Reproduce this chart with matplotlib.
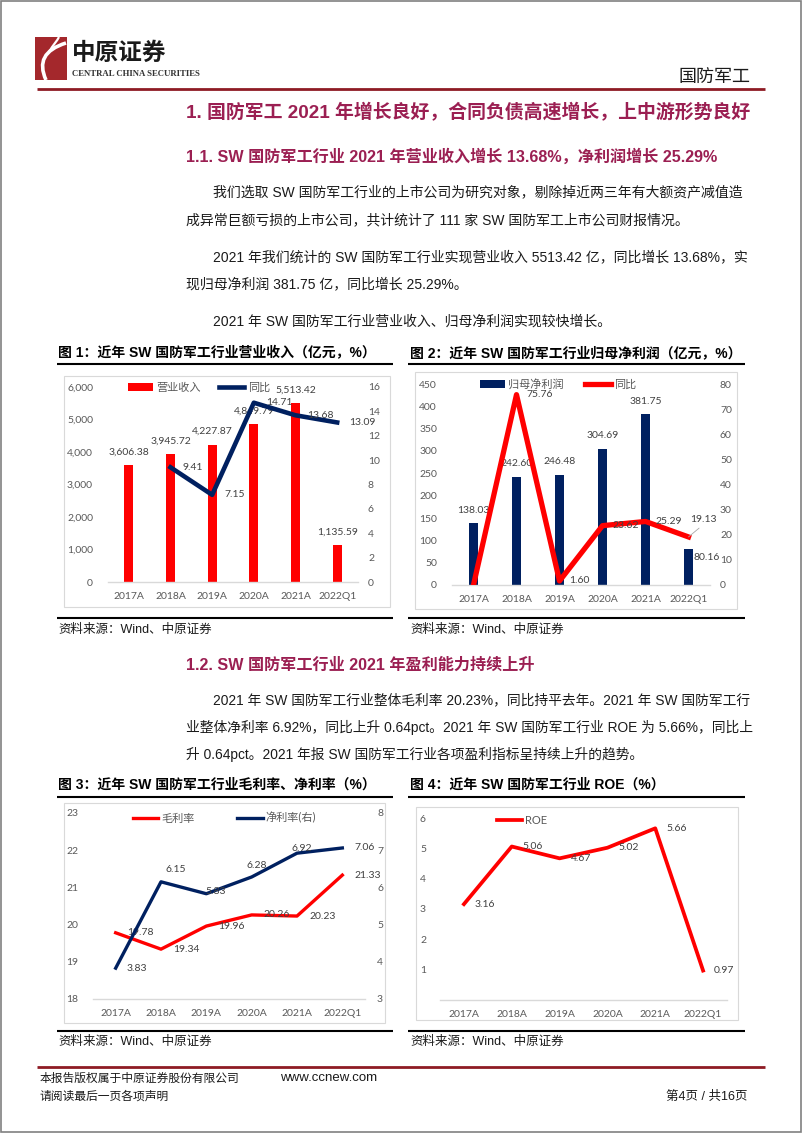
import matplotlib
matplotlib.use('Agg')
import matplotlib.pyplot as plt
from matplotlib import font_manager
from matplotlib.patches import Rectangle, PathPatch
from matplotlib.path import Path
from matplotlib.ticker import FuncFormatter

W, H, DPI = 802, 1133, 100
PT = 72 / DPI  # one pixel in points

CJK = 'Noto Sans CJK SC'
_names = {f.name for f in font_manager.fontManager.ttflist}
NARROW = 'Liberation Sans Narrow' if 'Liberation Sans Narrow' in _names else 'Liberation Sans'
BODY = [NARROW, CJK]
NUM = ['Lato', CJK]

PURPLE = '#9B1F52'
MAROON = '#8E1B24'
RED = '#FF0000'
NAVY = '#002060'
TICK = '#595959'
LABEL = '#404040'
BASE = '#D9D9D9'

# ---- data ----
years = ['2017A', '2018A', '2019A', '2020A', '2021A', '2022Q1']
revenue = [3606.38, 3945.72, 4227.87, 4849.79, 5513.42, 1135.59]
revenue_yoy = [None, 9.41, 7.15, 14.71, 13.68, 13.09]
profit = [138.03, 242.60, 246.48, 304.69, 381.75, 80.16]
profit_yoy = [0.0, 75.76, 1.60, 23.62, 25.29, 19.13]  # 2017 blank, Excel draws it at 0
gross_margin = [19.78, 19.34, 19.96, 20.26, 20.23, 21.33]
net_margin = [3.83, 6.15, 5.83, 6.28, 6.92, 7.06]
roe = [3.16, 5.06, 4.67, 5.02, 5.66, 0.97]

para_11 = [
    '我们选取 SW 国防军工行业的上市公司为研究对象，剔除掉近两三年有大额资产减值造',
    '成异常巨额亏损的上市公司，共计统计了 111 家 SW 国防军工上市公司财报情况。',
    '2021 年我们统计的 SW 国防军工行业实现营业收入 5513.42 亿，同比增长 13.68%，实',
    '现归母净利润 381.75 亿，同比增长 25.29%。',
    '2021 年 SW 国防军工行业营业收入、归母净利润实现较快增长。',
]
para_12 = [
    '2021 年 SW 国防军工行业整体毛利率 20.23%，同比持平去年。2021 年 SW 国防军工行',
    '业整体净利率 6.92%，同比上升 0.64pct。2021 年 SW 国防军工行业 ROE 为 5.66%，同比上',
    '升 0.64pct。2021 年报 SW 国防军工行业各项盈利指标呈持续上升的趋势。',
]

fig = plt.figure(figsize=(W / DPI, H / DPI), dpi=DPI)
page = fig.add_axes([0, 0, 1, 1])
page.set_xlim(0, W)
page.set_ylim(H, 0)
page.axis('off')


def txt(x, y, s, size, **kw):
    kw.setdefault('family', BODY)
    kw.setdefault('va', 'center')
    page.text(x, y, s, fontsize=size, **kw)


def hline(x0, x1, y, lw=1.5, color='black'):
    page.plot([x0, x1], [y, y], color=color, lw=lw, solid_capstyle='butt')


def axes_px(x0, y0, x1, y1):
    return fig.add_axes([x0 / W, 1 - y1 / H, (x1 - x0) / W, (y1 - y0) / H])


def style(ax, lo, hi, ticks, fmt=None, pad=10.8):
    ax.set_ylim(lo, hi)
    ax.set_yticks(ticks)
    if fmt:
        ax.yaxis.set_major_formatter(FuncFormatter(fmt))
    for s in ax.spines.values():
        s.set_visible(False)
    ax.tick_params(axis='y', length=0, pad=pad, labelsize=7.5, labelcolor=TICK)
    for lab in ax.get_yticklabels():
        lab.set_family(NUM)
    ax.patch.set_alpha(0)


def style_x(ax):
    ax.set_xlim(-0.5, 5.5)
    ax.set_xticks(range(6), years)
    ax.spines['bottom'].set_visible(True)
    ax.spines['bottom'].set_color(BASE)
    ax.spines['bottom'].set_linewidth(1.0)
    ax.tick_params(axis='x', length=0, pad=7.5, labelsize=7.5, labelcolor=TICK)
    for lab in ax.get_xticklabels():
        lab.set_family(NUM)


def label(ax, i, v, s, dx, dy, ha='left'):
    ax.annotate(s, (i, v), xytext=(dx * PT, -dy * PT), textcoords='offset points',
                ha=ha, va='center', fontsize=7.5, color=LABEL, family=NUM)


def legend(ax, handles, names, x, y, spacing):
    ax.legend(handles, names, loc='center left', bbox_to_anchor=(x / W, 1 - y / H),
              bbox_transform=fig.transFigure, ncol=len(names), frameon=False,
              prop={'family': NUM, 'size': 8}, labelcolor=TICK, borderpad=0,
              handlelength=2.3, handletextpad=0.3, columnspacing=spacing)


# ---- page frame, header ----
page.add_patch(Rectangle((0.5, 0.5), W - 1.5, H - 2, fill=False, ec='#808080', lw=1.2))
page.add_patch(Rectangle((35, 37), 32, 43, color='#A4282C', lw=0))
swoosh = Path([(46, 80), (38, 62), (44, 50), (66, 43)],
              [Path.MOVETO, Path.CURVE4, Path.CURVE4, Path.CURVE4])
page.add_patch(PathPatch(swoosh, fill=False, ec='white', lw=2.6))
twig = Path([(49, 52), (53, 45), (57, 41), (59, 37)],
            [Path.MOVETO, Path.CURVE4, Path.CURVE4, Path.CURVE4])
page.add_patch(PathPatch(twig, fill=False, ec='white', lw=1.6))
txt(72, 53, '中原证券', 17, family=[CJK], weight='bold', color='#1A1A1A')
txt(72, 74, 'CENTRAL CHINA SECURITIES', 6.3, family=['Liberation Serif'],
    weight='bold', color='#333333')
txt(750, 77, '国防军工', 13, family=[CJK], ha='right', color='#1A1A1A')
hline(37, 765, 89, lw=2, color=MAROON)

# ---- section text ----
txt(186, 113, '1. 国防军工 2021 年增长良好，合同负债高速增长，上中游形势良好', 13.6,
    weight='bold', color=PURPLE)
txt(186, 157, '1.1. SW 国防军工行业 2021 年营业收入增长 13.68%，净利润增长 25.29%', 11.6,
    weight='bold', color=PURPLE)
for (x, y), s in zip([(213, 192), (186, 220), (213, 257), (186, 284), (213, 322)], para_11):
    txt(x, y, s, 10, color='#1A1A1A')

txt(186, 665, '1.2. SW 国防军工行业 2021 年盈利能力持续上升', 11.6, weight='bold', color=PURPLE)
for (x, y), s in zip([(213, 700), (186, 727), (186, 754)], para_12):
    txt(x, y, s, 9.9, color='#1A1A1A')

# chart titles, rules, frames, sources
titles = [
    (58, 353, '图 1：近年 SW 国防军工行业营业收入（亿元，%）'),
    (410, 353, '图 2：近年 SW 国防军工行业归母净利润（亿元，%）'),
    (58, 785, '图 3：近年 SW 国防军工行业毛利率、净利率（%）'),
    (410, 785, '图 4：近年 SW 国防军工行业 ROE（%）'),
]
for x, y, s in titles:
    txt(x, y, s, 10, weight='bold', color='black')
for x0, x1 in [(57, 393), (408, 745)]:
    hline(x0, x1, 364)
    hline(x0, x1, 618)
    hline(x0, x1, 797)
    hline(x0, x1, 1031)
for x0, y0, x1, y1 in [(64, 376, 390, 607), (415, 372, 737, 609),
                       (64, 803, 385, 1023), (416, 807, 738, 1020)]:
    page.add_patch(Rectangle((x0, y0), x1 - x0, y1 - y0, fill=False, ec=BASE, lw=0.8))
for x, y in [(58, 630), (410, 630), (58, 1042), (410, 1042)]:
    txt(x, y, '资料来源：Wind、中原证券', 9, color='#1A1A1A')

# ---- footer ----
hline(37, 765, 1067, lw=2, color=MAROON)
txt(40, 1079, '本报告版权属于中原证券股份有限公司', 8.5, color='#1A1A1A')
txt(280, 1078, 'www.ccnew.com', 9.5, family=['Liberation Sans'], color='#1A1A1A')
txt(40, 1097, '请阅读最后一页各项声明', 8.5, color='#1A1A1A')
txt(748, 1097, '第4页 / 共16页', 9, ha='right', color='#1A1A1A')

x = list(range(6))

# ---- chart 1: revenue ----
ax1 = axes_px(108, 387, 358, 582)
bars1 = ax1.bar(x, revenue, width=0.22, color=RED)
style(ax1, 0, 6000, range(0, 6001, 1000), fmt=lambda v, p: f'{v:,.0f}', pad=15 * PT)
style_x(ax1)
for i, v in enumerate(revenue):
    label(ax1, i, v, f'{v:,.2f}', 0, -13, ha='center')
ax1r = ax1.twinx()
line1, = ax1r.plot(x[1:], revenue_yoy[1:], color=NAVY, lw=3.3)
style(ax1r, 0, 16, range(0, 17, 2), pad=10 * PT)
for i in range(1, 6):
    label(ax1r, i, revenue_yoy[i], f'{revenue_yoy[i]:.2f}', 12, 0)
legend(ax1r, [bars1, line1], ['营业收入', '同比'], 122, 387, 1.6)

# ---- chart 2: net profit ----
ax2 = axes_px(452, 384, 710, 585)
bars2 = ax2.bar(x, profit, width=0.22, color=NAVY)
style(ax2, 0, 450, range(0, 451, 50), pad=15 * PT)
style_x(ax2)
for i, v in enumerate(profit[:5]):
    label(ax2, i, v, f'{v:.2f}', 0, -13, ha='center')
label(ax2, 5, profit[5], f'{profit[5]:.2f}', 5, 8)
ax2r = ax2.twinx()
line2, = ax2r.plot(x, profit_yoy, color=RED, lw=3.8)
style(ax2r, 0, 80, range(0, 81, 10), pad=10 * PT)
for i in range(1, 5):
    label(ax2r, i, profit_yoy[i], f'{profit_yoy[i]:.2f}', 10, 0)
ax2r.annotate(f'{profit_yoy[5]:.2f}', (5, profit_yoy[5]), xytext=(15 * PT, 17 * PT),
              textcoords='offset points', ha='center', va='center', fontsize=7.5,
              color=LABEL, family=NUM,
              arrowprops=dict(arrowstyle='-', color='#A6A6A6', lw=0.6,
                              relpos=(0.5, 0), shrinkA=1, shrinkB=0))
legend(ax2r, [bars2, line2], ['归母净利润', '同比'], 474, 384, 1.9)

# ---- chart 3: margins ----
ax3 = axes_px(93, 813, 365, 999)
line3a, = ax3.plot(x, gross_margin, color=RED, lw=2.4)
style(ax3, 18, 23, range(18, 24), pad=15 * PT)
style_x(ax3)
for i, v in enumerate(gross_margin):
    label(ax3, i, v, f'{v:.2f}', 12, 0)
ax3r = ax3.twinx()
line3b, = ax3r.plot(x, net_margin, color=NAVY, lw=2.4)
style(ax3r, 3, 8, range(3, 9), pad=12 * PT)
net_offsets = [(11, 0, 'left'), (4, -12, 'left'), (9, -2, 'center'),
               (5, -11, 'center'), (5, -5, 'center'), (12, 0, 'left')]
for i, (dx, dy, ha) in enumerate(net_offsets):
    label(ax3r, i, net_margin[i], f'{net_margin[i]:.2f}', dx, dy, ha=ha)
legend(ax3r, [line3a, line3b], ['毛利率', '净利率(右)'], 127, 818, 3.8)

# ---- chart 4: ROE ----
ax4 = axes_px(440, 818, 727, 1000)
line4, = ax4.plot(x, roe, color=RED, lw=2.7)
style(ax4, 0, 6, range(1, 7), pad=14 * PT)
style_x(ax4)
for i, v in enumerate(roe):
    label(ax4, i, v, f'{v:.2f}', 11, 0)
legend(ax4, [line4], ['ROE'], 491, 820, 2)

fig.savefig('out.png', dpi=DPI)
